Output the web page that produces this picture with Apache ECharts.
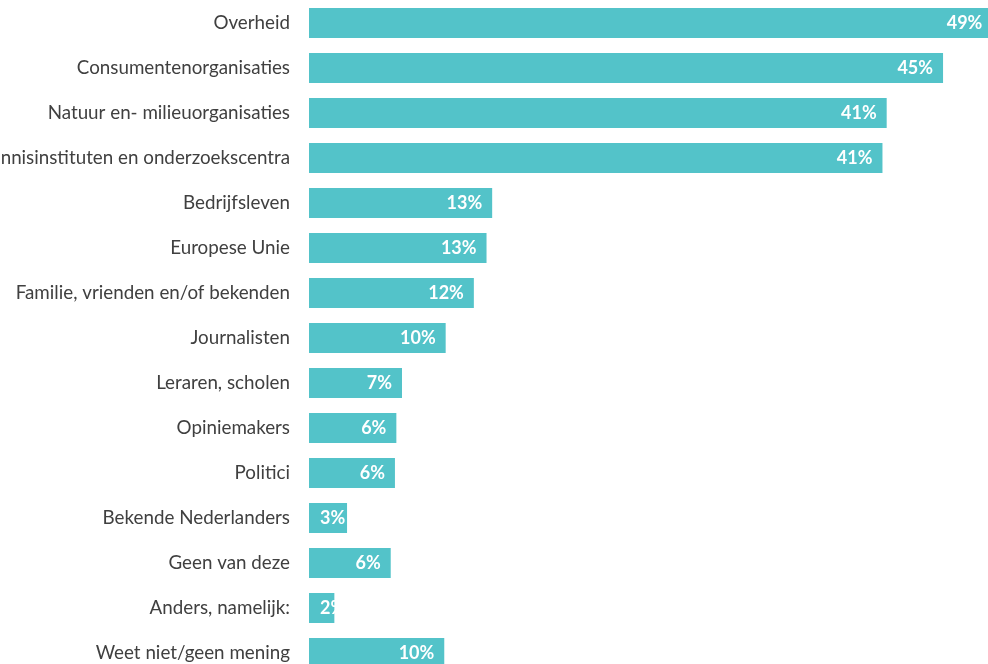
<!DOCTYPE html>
<html style="height: 100%">
<head>
	<meta charset="utf-8">
</head>
<body style="height: 100%; margin: 0; background: #ffffff">
<div id="container" style="width: 988px; height: 664px"></div>
<script type="text/javascript" src="https://cdn.jsdelivr.net/npm/echarts@6/dist/echarts.min.js"></script>
<script type="text/javascript">
    var categories = ['Overheid', 'Consumentenorganisaties', 'Natuur en- milieuorganisaties',
        'Kennisinstituten en onderzoekscentra', 'Bedrijfsleven', 'Europese Unie',
        'Familie, vrienden en/of bekenden', 'Journalisten', 'Leraren, scholen', 'Opiniemakers',
        'Politici', 'Bekende Nederlanders', 'Geen van deze', 'Anders, namelijk:', 'Weet niet/geen mening'];
    var values = [48.5, 45.0, 41.0, 40.7, 13.0, 12.6, 11.7, 9.7, 6.6, 6.2, 6.1, 2.7, 5.8, 1.8, 9.6];
    var valueLabels = ['49%', '45%', '41%', '41%', '13%', '13%', '12%', '10%', '7%', '6%', '6%', '3%', '6%', '2%', '10%'];

    var dom = document.getElementById("container");
    var myChart = echarts.init(dom);

    var seriesData = [];
    for (let i = 0; i < values.length; i++) {
        let item = { value: values[i] };
        if (values[i] < 3) {
            item.label = { position: 'insideLeft', distance: 11 };
        } else if (values[i] < 4) {
            item.label = { distance: 4 };
        }
        seriesData.push(item);
    }

    var option = {
        backgroundColor: '#ffffff',
        animation: false,
        grid: {
            left: 309,
            top: 0.5,
            width: 704.5,
            height: 675,
            containLabel: false,
            outerBoundsMode: 'none'
        },
        xAxis: {
            type: 'value',
            min: 0,
            max: 50,
            show: false
        },
        yAxis: {
            type: 'category',
            inverse: true,
            data: categories,
            axisLine: { show: false },
            axisTick: { show: false },
            axisLabel: {
                margin: 19,
                color: '#404040',
                fontSize: 18.8,
                fontFamily: 'Lato'
            }
        },
        series: [{
            type: 'bar',
            barWidth: 30,
            data: seriesData,
            itemStyle: {
                color: '#53c3c9'
            },
            label: {
                show: true,
                position: 'insideRight',
                distance: 10,
                color: '#ffffff',
                fontWeight: 'bold',
                fontSize: 18,
                fontFamily: 'Lato',
                formatter: function (p) {
                    return valueLabels[p.dataIndex];
                }
            }
        }]
    };

    myChart.setOption(option, true);
</script>
</body>
</html>
